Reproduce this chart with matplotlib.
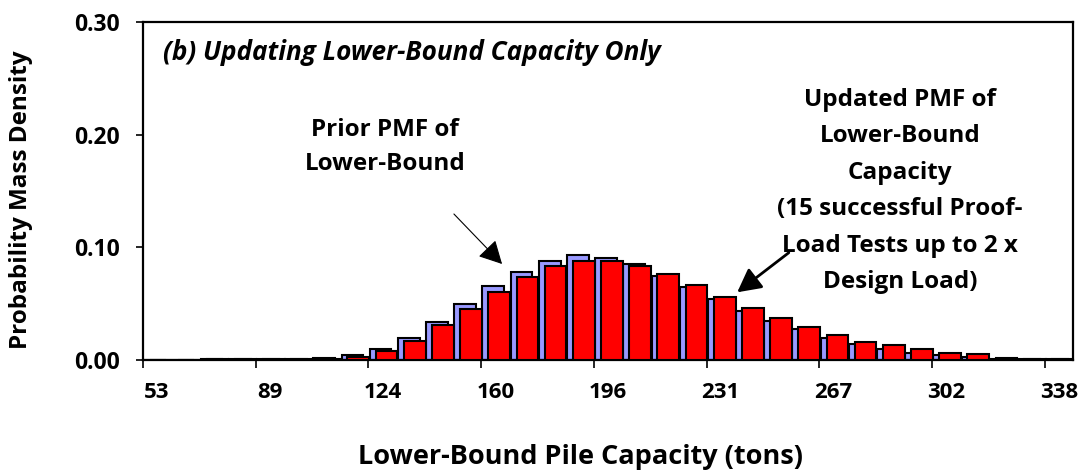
import matplotlib
matplotlib.use("Agg")
import matplotlib.pyplot as plt
from matplotlib.patches import FancyArrowPatch

plt.rcParams['font.family'] = ['Open Sans', 'DejaVu Sans']

# Capacity bins (tons)
capacity = [53, 62, 71, 80, 89, 98, 107, 116, 124, 133, 142, 151, 160, 169, 178,
            187, 196, 204, 213, 222, 231, 240, 249, 258, 267, 276, 284, 293, 302,
            311, 320, 329, 338]
tick_labels = ["53", "89", "124", "160", "196", "231", "267", "302", "338"]

prior_pmf = [0.0, 0.0, 0.0008, 0.0009, 0.0010, 0.0012, 0.0014, 0.0040, 0.0100,
             0.0195, 0.0334, 0.0497, 0.0655, 0.0784, 0.0880, 0.0932, 0.0902,
             0.0850, 0.0750, 0.0650, 0.0538, 0.0438, 0.0343, 0.0272, 0.0192,
             0.0142, 0.0095, 0.0065, 0.0040, 0.0024, 0.0012, 0.0008, 0.0005]
updated_pmf = [0.0, 0.0, 0.0006, 0.0007, 0.0008, 0.0009, 0.0011, 0.0030, 0.0077,
               0.0169, 0.0308, 0.0455, 0.0606, 0.0739, 0.0834, 0.0878, 0.0878,
               0.0834, 0.0760, 0.0666, 0.0562, 0.0461, 0.0370, 0.0290, 0.0222,
               0.0163, 0.0130, 0.0100, 0.0060, 0.0050, 0.0020, 0.0012, 0.0010]

W, H = 1087, 473
fig = plt.figure(figsize=(W / 100, H / 100), dpi=100)
ax = fig.add_axes([143 / W, 1 - 360 / H, (1073 - 143) / W, (360 - 22) / H])

idx = list(range(len(capacity)))
bw = 0.77
ax.bar([i - 0.07 for i in idx], prior_pmf, width=bw, color='#9999FF',
       edgecolor='black', linewidth=1.5, zorder=2)
ax.bar([i + 0.14 for i in idx], updated_pmf, width=bw, color='#FF0000',
       edgecolor='black', linewidth=1.5, zorder=3)

ax.set_xlim(-0.5, len(capacity) - 0.5)
ax.set_ylim(0, 0.30)

# x ticks: marks at category boundaries, labels at category centres
label_idx = [capacity.index(int(t)) for t in tick_labels]
ax.set_xticks([i - 0.5 for i in label_idx])
ax.set_xticklabels([])
ax.set_xticks(label_idx, minor=True)
ax.set_xticklabels(tick_labels, minor=True, fontsize=16, fontweight='bold')
ax.tick_params(axis='x', which='major', length=6, width=1.2, direction='out')
ax.tick_params(axis='x', which='minor', length=0, pad=16)

ax.set_yticks([0.0, 0.1, 0.2, 0.3])
ax.set_yticklabels(["0.00", "0.10", "0.20", "0.30"], fontsize=16.5, fontweight='bold')
ax.tick_params(axis='y', length=5, width=1.2, direction='out', pad=12)

for s in ax.spines.values():
    s.set_linewidth(1.6)

def fp(x, y):
    return (x / W, 1 - y / H)

fig.text(*fp(21, 200), "Probability Mass Density", rotation=90, ha='center',
         va='center', fontsize=17.5, fontweight='bold')
fig.text(*fp(580, 457), "Lower-Bound Pile Capacity (tons)", ha='center',
         va='center', fontsize=19.5, fontweight='bold')
fig.text(*fp(163, 52), "(b) Updating Lower-Bound Capacity Only", ha='left',
         va='center', fontsize=18.8, fontstyle='italic', fontweight='bold')

fig.text(*fp(385, 147), "Prior PMF of\nLower-Bound", ha='center', va='center',
         fontsize=17.5, fontweight='bold', linespacing=1.6)
fig.text(*fp(900, 191), "Updated PMF of\nLower-Bound\nCapacity\n(15 successful Proof-\nLoad Tests up to 2 x\nDesign Load)",
         ha='center', va='center', fontsize=17.5, fontweight='bold', linespacing=1.69)

a1 = FancyArrowPatch(fp(452, 212), fp(504, 266), transform=fig.transFigure,
                     arrowstyle='-|>,head_length=0.95,head_width=0.5',
                     mutation_scale=15, color='black', lw=0.8)
a2 = FancyArrowPatch(fp(791, 251), fp(735, 294), transform=fig.transFigure,
                     arrowstyle='-|>,head_length=0.95,head_width=0.5',
                     mutation_scale=15, color='black', lw=2)
fig.patches.extend([a1, a2])

fig.savefig("out.png", dpi=100)
